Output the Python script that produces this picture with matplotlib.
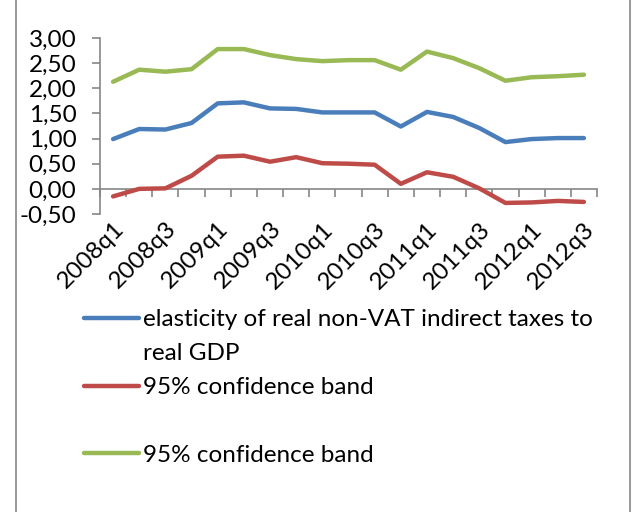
import numpy as np
import matplotlib
matplotlib.use('Agg')
import matplotlib.pyplot as plt
from matplotlib.lines import Line2D
from matplotlib.patches import Rectangle

plt.rcParams['font.family'] = ['Lato', 'DejaVu Sans']

# ================================
# DATA
# ================================

quarters = [f"{y}q{q}" for y in range(2008, 2013) for q in range(1, 5)][:19]

elasticity = [0.99, 1.19, 1.18, 1.31, 1.70, 1.72, 1.60, 1.59, 1.52, 1.52,
              1.52, 1.24, 1.53, 1.43, 1.21, 0.93, 0.99, 1.01, 1.01]
lower_band = [-0.15, 0.00, 0.01, 0.26, 0.64, 0.66, 0.54, 0.63, 0.51, 0.50,
              0.48, 0.10, 0.33, 0.24, 0.01, -0.28, -0.27, -0.24, -0.26]
upper_band = [2.13, 2.37, 2.33, 2.38, 2.78, 2.78, 2.66, 2.58, 2.54, 2.56,
              2.56, 2.37, 2.73, 2.60, 2.40, 2.15, 2.22, 2.24, 2.27]

labels = ["elasticity of real non-VAT indirect taxes to",
          "95% confidence band",
          "95% confidence band"]
colors = ["#4A7EBB", "#BE4B48", "#98B954"]

FS = 17.5

# ================================
# PLOT
# ================================

fig = plt.figure(figsize=(6.37, 5.12), dpi=100)
ax = fig.add_axes([100 / 637, 1 - 214 / 512, 497 / 637, 176 / 512])

x = np.arange(len(quarters))
for vals, c in zip([elasticity, lower_band, upper_band], colors):
    ax.plot(x, vals, color=c, lw=3.2, solid_capstyle='round')

ax.set_xlim(-0.5, len(quarters) - 0.5)
ax.set_ylim(-0.5, 3.0)

gray = "#868686"
ax.spines['top'].set_visible(False)
ax.spines['right'].set_visible(False)
ax.spines['bottom'].set_visible(False)
ax.spines['left'].set_color(gray)
ax.spines['left'].set_linewidth(1.2)

yt = np.arange(-0.5, 3.01, 0.5)
ax.set_yticks(yt)
ax.set_yticklabels([f"{v:.2f}".replace(".", ",") for v in yt])
ax.tick_params(axis='y', length=6, width=1.2, color=gray, labelsize=FS, pad=11)

ax.set_xticks(x[::2])
ax.set_xticklabels(quarters[::2], rotation=45, ha='right', va='top',
                   rotation_mode='anchor')
ax.tick_params(axis='x', length=0, labelsize=FS, pad=3)

# category axis crossing at zero
zero_pos = 0.5 / 3.5
sec = ax.secondary_xaxis(zero_pos)
sec.set_xticks(np.arange(-0.5, len(quarters), 1.0))
sec.set_xticklabels([])
sec.tick_params(length=6, width=1.2, color=gray, direction='out')
sec.spines['bottom'].set_color(gray)
sec.spines['bottom'].set_linewidth(1.2)

# legend (Excel-style layout)
leg_y = [318, 386, 453]
for yy, c, lab in zip(leg_y, colors, labels):
    fy = 1 - yy / 512
    fig.add_artist(Line2D([84 / 637, 139 / 637], [fy, fy], color=c, lw=3.2,
                          solid_capstyle='round'))
    fig.text(143 / 637, fy, lab, fontsize=FS, va='center_baseline', ha='left')
fig.text(143 / 637, 1 - 351 / 512, "real GDP", fontsize=FS,
         va='center_baseline', ha='left')

# chart border
fig.add_artist(Rectangle((16 / 637, -0.05), 614 / 637, 1.1, fill=False,
                         edgecolor=gray, lw=1.2, transform=fig.transFigure))

fig.savefig("out.png", dpi=100)
plt.close()
